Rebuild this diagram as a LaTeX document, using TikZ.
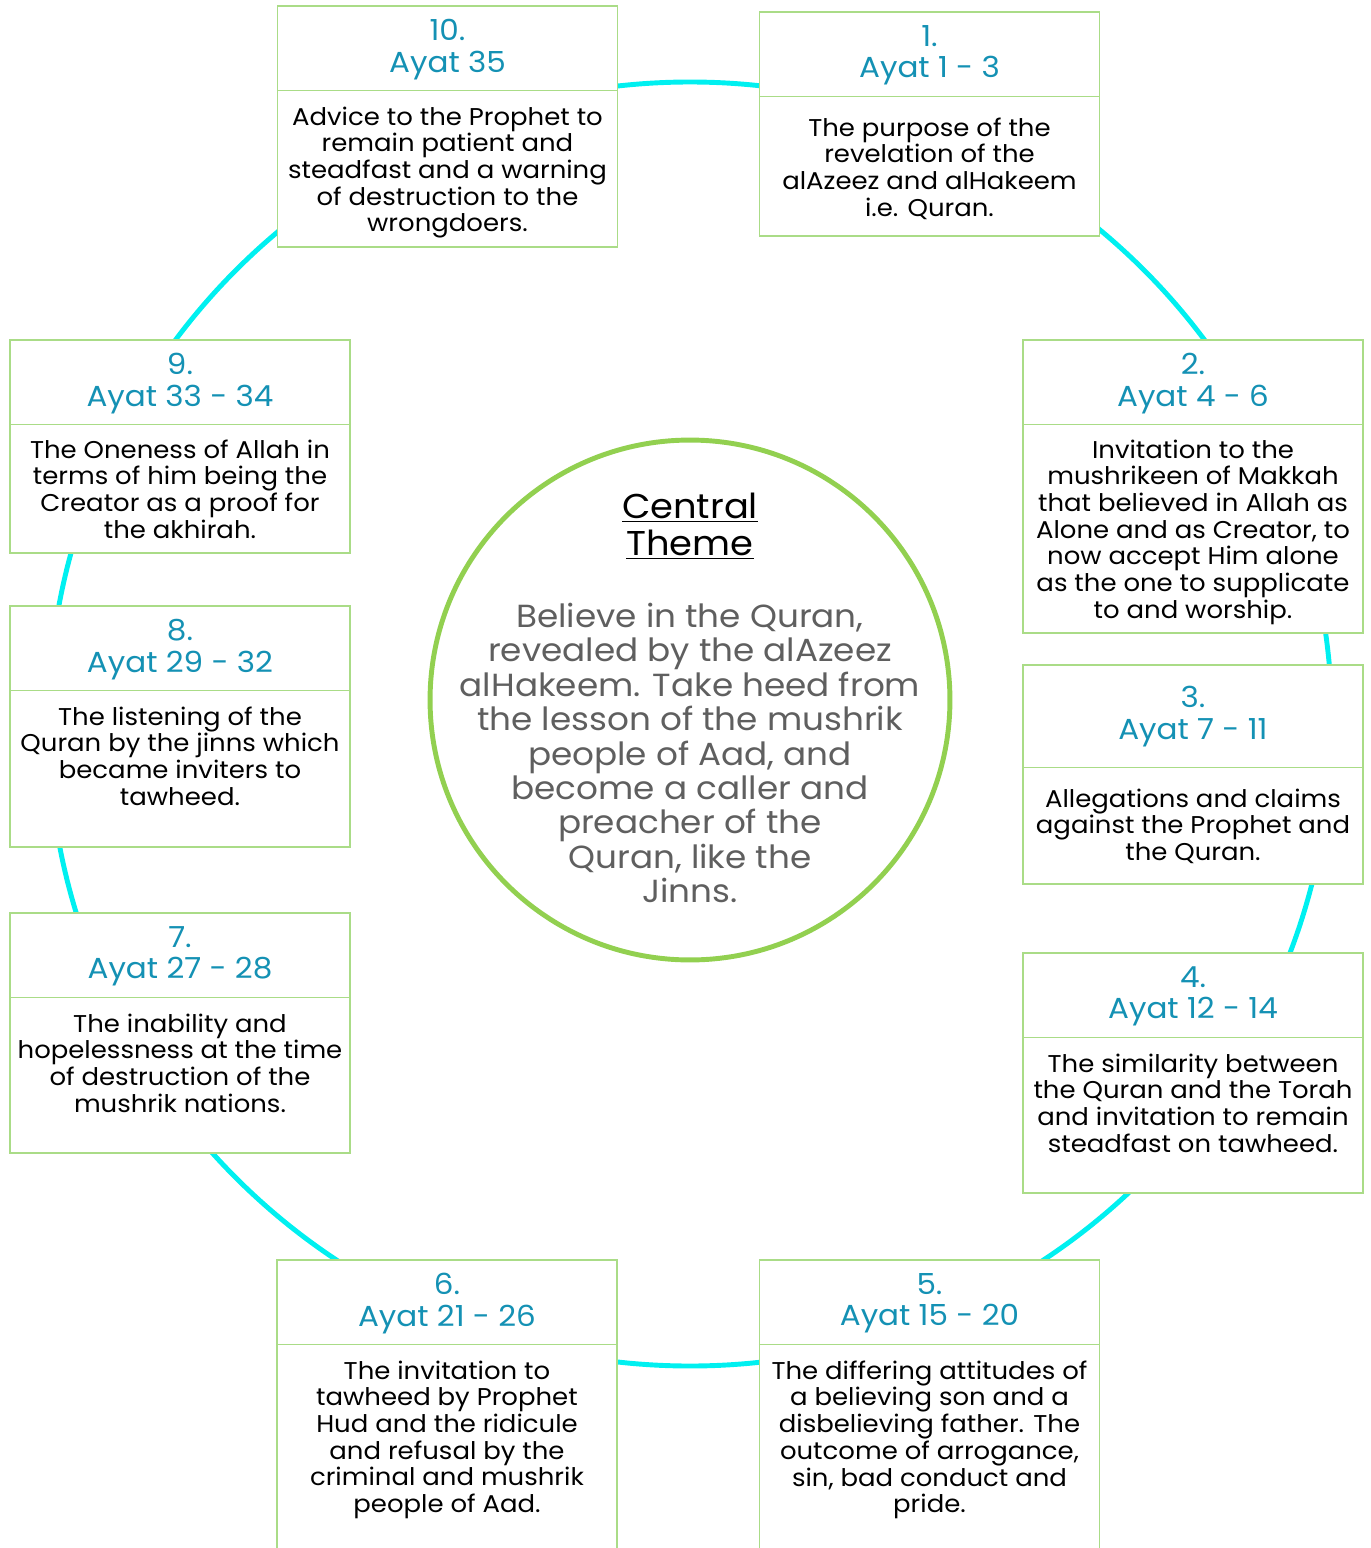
\documentclass[tikz,border=0pt]{standalone}
\usepackage{fontspec}
\setmainfont[FakeStretch=1.07]{Poppins}
\usetikzlibrary{calc}
\definecolor{ringcyan}{RGB}{0,240,240}
\definecolor{themegreen}{RGB}{146,208,80}
\definecolor{boxgreen}{RGB}{170,220,135}
\definecolor{ayatblue}{RGB}{20,145,180}
\definecolor{themegray}{RGB}{95,95,95}

\begin{document}
\begin{tikzpicture}[x=0.02cm,y=-0.02cm,
  frame/.style={draw=boxgreen,thick,fill=white,minimum width=6.8cm,inner sep=0pt},
  hd/.style={text=ayatblue,align=center,inner sep=0pt,
             font=\fontsize{16.5}{18.1}\selectfont},
  bd/.style={anchor=north,align=center,inner sep=0pt,
             font=\fontsize{13.8}{15.2}\selectfont}]
  \useasboundingbox (0,0) rectangle (1371,1548);
  \clip (0,0) rectangle (1371,1548);

  % ring and central theme
  \draw[ringcyan,line width=2.8pt] (690,724) circle (642);
  \node[draw=themegreen,line width=2.8pt,circle,minimum size=10.4cm] (theme) at (690,700) {};
  \node[align=center,font=\fontsize{19.6}{21}\selectfont] (themetitle) at (690,526)
    {\underline{Central}\\\underline{Theme}};
  \node[align=center,text=themegray,font=\fontsize{18.2}{19.6}\selectfont] (themetext) at (690,753)
    {Believe in the Quran,\\revealed by the alAzeez\\alHakeem. Take heed from\\the lesson of the mushrik\\people of Aad, and\\become a caller and\\preacher of the\\Quran, like the\\Jinns.};

  % boxes
  \node[frame,minimum height=4.82cm] (b10) at (447.5,126.5) {};
  \node[frame,minimum height=4.48cm] (b1)  at (929.5,124)   {};
  \node[frame,minimum height=4.26cm] (b9)  at (180,446.5)   {};
  \node[frame,minimum height=5.86cm] (b2)  at (1193,486.5)  {};
  \node[frame,minimum height=4.82cm] (b8)  at (180,726.5)   {};
  \node[frame,minimum height=4.38cm] (b3)  at (1193,774.5)  {};
  \node[frame,minimum height=4.80cm] (b7)  at (180,1033)    {};
  \node[frame,minimum height=4.80cm] (b4)  at (1193,1073)   {};
  \node[frame,minimum height=6.20cm] (b6)  at (447,1415)    {};
  \node[frame,minimum height=6.20cm] (b5)  at (929.5,1415)  {};

  \foreach \b/\h in {b10/85,b1/85,b9/85,b2/85,b8/85,b3/103,b7/85,b4/85,b6/85,b5/85}{
    \draw[boxgreen,thick] ($(\b.north west)+(0,\h)$) -- ($(\b.north east)+(0,\h)$);}

  % headers
  \node[hd] (h10) at ($(b10.north)+(0,44)$) {10.\\Ayat 35};
  \node[hd] (h1)  at ($(b1.north)+(0,44)$)  {1.\\Ayat 1 - 3};
  \node[hd] (h9)  at ($(b9.north)+(0,44)$)  {9.\\Ayat 33 - 34};
  \node[hd] (h2)  at ($(b2.north)+(0,44)$)  {2.\\Ayat 4 - 6};
  \node[hd] (h8)  at ($(b8.north)+(0,44)$)  {8.\\Ayat 29 - 32};
  \node[hd] (h3)  at ($(b3.north)+(0,52.5)$)  {3.\\Ayat 7 - 11};
  \node[hd] (h7)  at ($(b7.north)+(0,44)$)  {7.\\Ayat 27 - 28};
  \node[hd] (h4)  at ($(b4.north)+(0,44)$)  {4.\\Ayat 12 - 14};
  \node[hd] (h6)  at ($(b6.north)+(0,44)$)  {6.\\Ayat 21 - 26};
  \node[hd] (h5)  at ($(b5.north)+(0,44)$)  {5.\\Ayat 15 - 20};

  % texts
  \node[bd] (t10) at ($(b10.north)+(0,101)$)
    {Advice to the Prophet to\\remain patient and\\steadfast and a warning\\of destruction to the\\wrongdoers.};
  \node[bd] (t1) at ($(b1.north)+(0,106)$)
    {The purpose of the\\revelation of the\\alAzeez and alHakeem\\i.e. Quran.};
  \node[bd] (t9) at ($(b9.north)+(0,100)$)
    {The Oneness of Allah in\\terms of him being the\\Creator as a proof for\\the akhirah.};
  \node[bd] (t2) at ($(b2.north)+(0,100)$)
    {Invitation to the\\mushrikeen of Makkah\\that believed in Allah as\\Alone and as Creator, to\\now accept Him alone\\as the one to supplicate\\to and worship.};
  \node[bd] (t8) at ($(b8.north)+(0,101)$)
    {The listening of the\\Quran by the jinns which\\became inviters to\\tawheed.};
  \node[bd] (t3) at ($(b3.north)+(0,124)$)
    {Allegations and claims\\against the Prophet and\\the Quran.};
  \node[bd] (t7) at ($(b7.north)+(0,101)$)
    {The inability and\\hopelessness at the time\\of destruction of the\\mushrik nations.};
  \node[bd] (t4) at ($(b4.north)+(0,101)$)
    {The similarity between\\the Quran and the Torah\\and invitation to remain\\steadfast on tawheed.};
  \node[bd] (t6) at ($(b6.north)+(0,101)$)
    {The invitation to\\tawheed by Prophet\\Hud and the ridicule\\and refusal by the\\criminal and mushrik\\people of Aad.};
  \node[bd] (t5) at ($(b5.north)+(0,101)$)
    {The differing attitudes of\\a believing son and a\\disbelieving father. The\\outcome of arrogance,\\sin, bad conduct and\\pride.};
\end{tikzpicture}
\end{document}
